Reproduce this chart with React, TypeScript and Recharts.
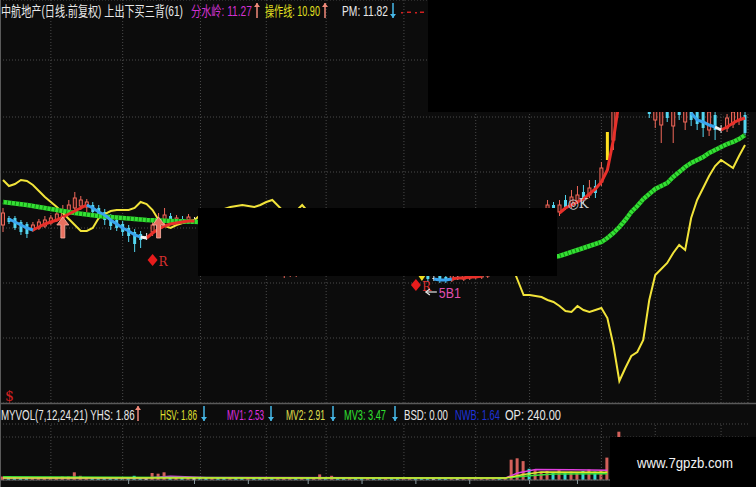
import React from "react";
import { ComposedChart, Bar, Line, XAxis, YAxis, CartesianGrid, ReferenceLine } from "recharts";

type Pair = [number, number];

const BARS = 125;

// yellow line (分水岭), [bar, price]
const yellowLine: Pair[] = [
  [0, 4.8], [1, 4.68], [2, 4.72], [3, 4.8], [4, 4.78], [5, 4.7], [6, 4.58], [7, 4.46], [8, 4.36], [9, 4.26],
  [10, 4.14], [11, 4.02], [12, 3.9], [13, 3.78], [14, 3.78], [15, 3.84], [16, 4.04], [17, 4.12], [18, 4.18], [19, 4.2],
  [20, 4.2], [21, 4.2], [22, 4.24], [23, 4.36], [24, 4.32], [25, 4.2], [26, 4.0], [27, 3.88], [28, 3.84], [29, 3.9],
  [30, 3.94], [31, 3.96], [32, 4.0], [33, 4.1], [34, 4.14], [35, 4.18], [36, 4.2], [37, 4.22], [38, 4.26], [39, 4.28],
  [40, 4.3], [41, 4.28], [42, 4.26], [43, 4.3], [44, 4.36], [45, 4.4], [46, 4.28], [47, 4.16], [48, 4.12], [49, 4.18],
  [50, 4.3], [51, 4.16],
  [85, 3.1], [86, 2.8], [87, 2.5], [88, 2.5], [89, 2.48], [90, 2.46], [91, 2.4], [92, 2.36], [93, 2.28], [94, 2.18],
  [95, 2.16], [96, 2.28], [97, 2.2], [98, 2.16], [99, 2.2], [100, 2.24], [101, 2.04], [102, 1.5], [103, 0.78], [104, 1.04],
  [105, 1.28], [106, 1.36], [107, 1.6], [108, 2.4], [109, 2.9], [110, 3.02], [111, 3.14], [112, 3.34], [113, 3.5], [114, 3.4],
  [115, 4.04], [116, 4.4], [117, 4.64], [118, 4.88], [119, 5.08], [120, 5.2], [121, 5.12], [122, 5.04], [123, 5.28], [124, 5.5],
];

// green line (操作线)
const greenLine: Pair[] = [
  [0, 4.36], [4, 4.3], [8, 4.22], [12, 4.14], [16, 4.08], [20, 4.04], [24, 4.0], [28, 3.98], [33, 3.96],
  [92, 3.26], [93, 3.28], [94, 3.32], [96, 3.4], [98, 3.48], [100, 3.56], [101, 3.64], [102, 3.74], [103, 3.86],
  [104, 4.0], [105, 4.16], [106, 4.28], [107, 4.42], [108, 4.52], [109, 4.62], [110, 4.68], [111, 4.74], [112, 4.86],
  [113, 4.96], [114, 5.06], [115, 5.14], [116, 5.2], [117, 5.26], [118, 5.34], [119, 5.4], [120, 5.46], [121, 5.52],
  [122, 5.56], [123, 5.62], [124, 5.7],
];

// trend line, split by colour
const trendRed: Pair[] = [
  [5, 3.8], [6, 3.86], [7, 3.92], [8, 3.96], [9, 4.0], [10, 4.06], [11, 4.12], [12, 4.18], [13, 4.24], [14, 4.3],
  [24, 3.64], [25, 3.74], [26, 3.82], [27, 3.88], [28, 3.92], [29, 3.94], [30, 3.96], [31, 3.98], [32, 3.98],
  [75, 2.82], [76, 2.84], [77, 2.84], [78, 2.86], [79, 2.86], [80, 2.88],
  [93, 4.14], [94, 4.24], [95, 4.3], [96, 4.36], [97, 4.42], [98, 4.52], [99, 4.62], [100, 4.76], [101, 5.0], [102, 5.6], [103, 6.4],
  [120, 5.8], [121, 5.86], [122, 5.94], [123, 6.0], [124, 6.04],
];
const trendBlue: Pair[] = [
  [1, 4.02], [2, 3.96], [3, 3.9], [4, 3.84], [5, 3.8],
  [14, 4.3], [15, 4.24], [16, 4.16], [17, 4.1], [18, 4.0], [19, 3.92], [20, 3.84], [21, 3.78], [22, 3.7], [23, 3.66],
  [72, 2.82], [73, 2.8], [74, 2.8], [75, 2.82],
  [115, 6.14], [116, 6.0], [117, 5.96], [118, 5.9], [119, 5.86],
];
const trendWhite: Pair[] = [[23, 3.66], [24, 3.64], [119, 5.86], [120, 5.8]];

// candles: [bar, open, high, low, close]
const candles: [number, number, number, number, number][] = [
  [0, 3.9, 4.24, 3.76, 4.14], [1, 4.04, 4.08, 3.92, 3.96], [2, 4.04, 4.08, 3.8, 3.84], [3, 3.96, 4.0, 3.7, 3.76],
  [4, 3.92, 3.96, 3.64, 3.72], [5, 3.8, 3.96, 3.76, 3.9], [6, 3.84, 4.02, 3.8, 3.96], [7, 3.88, 4.08, 3.84, 4.0],
  [8, 3.94, 4.1, 3.9, 4.04], [9, 4.0, 4.2, 3.96, 4.12], [10, 4.04, 4.3, 4.0, 4.2], [11, 4.16, 4.4, 4.12, 4.3],
  [12, 4.24, 4.56, 4.2, 4.44], [13, 4.28, 4.48, 4.2, 4.4], [14, 4.26, 4.42, 4.16, 4.36], [15, 4.3, 4.36, 4.12, 4.16],
  [16, 4.24, 4.3, 4.02, 4.08], [17, 4.16, 4.22, 3.9, 4.0], [18, 4.04, 4.12, 3.8, 3.88], [19, 4.0, 4.06, 3.78, 3.84],
  [20, 3.92, 3.98, 3.68, 3.76], [21, 3.84, 3.9, 3.56, 3.68], [22, 3.76, 3.82, 3.36, 3.52], [23, 3.72, 3.78, 3.44, 3.6],
  [24, 3.68, 3.74, 3.6, 3.68], [25, 3.76, 4.0, 3.68, 3.9], [26, 3.84, 4.14, 3.76, 4.0], [27, 3.96, 4.24, 3.88, 4.1],
  [28, 4.08, 4.14, 3.92, 3.98], [29, 3.96, 4.1, 3.9, 4.04], [30, 4.02, 4.08, 3.92, 3.96], [31, 3.98, 4.12, 3.94, 4.06],
  [32, 4.02, 4.06, 3.98, 4.02],
  [47, 2.94, 3.2, 2.84, 3.1], [48, 2.96, 3.12, 2.86, 3.04], [49, 2.98, 3.14, 2.86, 3.08],
  [70, 2.98, 3.06, 2.8, 2.86], [71, 2.92, 3.0, 2.76, 2.82], [72, 2.84, 2.9, 2.78, 2.84], [73, 2.88, 2.94, 2.74, 2.8],
  [74, 2.86, 2.92, 2.74, 2.78], [75, 2.8, 2.98, 2.76, 2.9], [76, 2.86, 2.94, 2.8, 2.86], [77, 2.82, 3.0, 2.78, 2.92],
  [78, 2.84, 3.02, 2.8, 2.94], [79, 2.86, 3.04, 2.82, 2.96], [80, 2.86, 3.06, 2.82, 2.98], [81, 2.88, 3.08, 2.84, 3.0],
  [91, 4.1, 4.4, 4.04, 4.3], [92, 4.3, 4.36, 4.1, 4.16], [93, 4.16, 4.4, 4.08, 4.3], [94, 4.4, 4.5, 4.2, 4.26],
  [95, 4.3, 4.6, 4.24, 4.46], [96, 4.38, 4.68, 4.32, 4.5], [97, 4.56, 4.7, 4.34, 4.42], [98, 4.5, 4.8, 4.44, 4.64],
  [99, 4.68, 4.8, 4.44, 4.54], [100, 4.76, 5.16, 4.68, 5.04], [101, 5.2, 5.76, 5.2, 5.76], [102, 5.6, 6.4, 5.4, 6.2],
  [103, 6.3, 7.0, 6.2, 6.8], [104, 6.4, 7.1, 6.3, 7.0], [105, 6.5, 7.3, 6.4, 7.2], [106, 7.0, 7.1, 6.24, 6.4],
  [107, 6.5, 7.2, 6.3, 7.1], [108, 6.6, 6.7, 6.04, 6.12], [109, 6.0, 6.6, 5.84, 6.5], [110, 5.9, 6.5, 5.54, 6.4],
  [111, 6.5, 6.6, 5.96, 6.04], [112, 5.88, 6.5, 5.54, 6.4], [113, 6.48, 6.6, 6.0, 6.1], [114, 5.96, 6.6, 5.8, 6.5],
  [115, 6.4, 6.5, 5.88, 6.0], [116, 6.3, 6.4, 5.8, 5.92], [117, 6.2, 6.3, 5.66, 5.84], [118, 5.8, 6.24, 5.68, 6.16],
  [119, 6.1, 6.2, 5.6, 5.8], [120, 5.84, 5.9, 5.74, 5.84], [121, 5.84, 6.12, 5.76, 6.04], [122, 5.92, 6.24, 5.84, 6.16],
  [123, 6.0, 6.3, 5.9, 6.24], [124, 6.1, 6.16, 5.7, 5.74],
];
const highlightBars = [101];

// chart signals: [bar, price, kind]
const signals: [number, number, string][] = [
  [1, 0.5, "S"], [10, 3.84, "up"], [25, 3.2, "R"], [26, 3.84, "up"],
  [69, 2.7, "R"], [70, 2.84, "tri"], [71, 2.56, "B"], [95, 4.34, "K"],
];

const gridPrices = [1.64, 2.74, 3.84, 4.96, 6.06, 7.2];
const gridBars = [8, 20, 33, 44, 54, 67, 79, 88, 100, 109, 120];

// volume panel
const volume = [
  0.5, 0.4, 0.4, 0.3, 0.4, 0.3, 0.4, 0.3, 0.4, 0.4,
  0.5, 0.5, 1.1, 0.6, 0.4, 0.4, 0.3, 0.4, 0.3, 0.3,
  0.4, 0.4, 0.6, 0.4, 0.3, 1.0, 0.9, 1.1, 0.5, 0.4,
  0.4, 0.3, 0.3, 0.4, 0.3, 0.3, 0.4, 0.3, 0.3, 0.4,
  0.3, 0.3, 0.4, 0.3, 0.3, 0.4, 0.3, 0.4, 0.3, 0.3,
  0.4, 0.3, 0.3, 0.8, 0.4, 0.6, 0.3, 0.3, 0.4, 0.3,
  0.3, 0.3, 0.4, 0.3, 0.3, 0.3, 0.4, 0.3, 0.3, 0.3,
  0.4, 0.3, 0.3, 0.4, 0.3, 0.3, 0.3, 0.4, 0.3, 0.3,
  0.3, 0.3, 0.3, 0.3, 0.3, 2.9, 3.1, 2.7, 1.6, 1.4,
  1.2, 1.3, 1.0, 1.4, 1.1, 1.2, 1.0, 1.3, 1.5, 1.2,
  1.4, 3.2, 4.2, 6.9,
];
const volDir =
  "udddduuuuu" + "uuuuuddddd" + "ddddnuuudu" + "dundduddud" + "dudduduuud" +
  "uduududdud" + "duddudduud" + "ddnddunuuu" + "uuuduuuudu" + "uududuudud" + "uuuu";
const volMa1: Pair[] = [[0, 0.3], [24, 0.3], [28, 0.55], [34, 0.35], [84, 0.3], [86, 1.0], [89, 1.5], [95, 1.45], [101, 1.4]];
const volMa2: Pair[] = [[0, 0.3], [40, 0.3], [84, 0.3], [87, 0.8], [90, 1.15], [101, 1.1]];
const volMa3: Pair[] = [[0, 0.45], [30, 0.35], [84, 0.3], [88, 0.6], [92, 0.85], [101, 0.9]];
const volTicks = [21, 32, 41, 51, 60, 69, 78, 88, 96];
const volGrid = [6.14];

const BG = "#0c0c0c";
const GRID = "#4a4a4a";
const FONT = "'Liberation Sans', 'Noto Sans CJK SC', sans-serif";

function put(rows: Record<string, any>[], key: string, pts: Pair[]) {
  pts.forEach(([i, v]) => {
    rows[i][key] = v;
  });
}

const priceRows: Record<string, any>[] = Array.from({ length: BARS }, (_, i) => ({ i }));
put(priceRows, "yellow", yellowLine);
put(priceRows, "green", greenLine);
put(priceRows, "tRed", trendRed);
put(priceRows, "tBlue", trendBlue);
put(priceRows, "tWhite", trendWhite);
candles.forEach(([i, o, h, l, c]) => {
  Object.assign(priceRows[i], { o, h, l, c, range: [l, h], hl: highlightBars.includes(i) });
});
signals.forEach(([i, v, k]) => {
  Object.assign(priceRows[i], { sig: v, sigKind: k });
});

const volRows: Record<string, any>[] = Array.from({ length: BARS }, (_, i) => ({
  i,
  vol: i < volume.length ? volume[i] : null,
  dir: volDir[i],
}));
put(volRows, "m1", volMa1);
put(volRows, "m2", volMa2);
put(volRows, "m3", volMa3);

// natural text width, so labels can be squeezed with a transform
const measureCtx = typeof document !== "undefined" ? document.createElement("canvas").getContext("2d") : null;
function textWidth(text: string, size: number, family: string) {
  if (!measureCtx) return text.length * size * 0.6;
  measureCtx.font = `${size}px ${family}`;
  return measureCtx.measureText(text).width;
}

function Squeezed({ x, y, len, color, size = 14, family = FONT, children }: any) {
  const natural = textWidth(children, size, family);
  const sx = natural > 0 ? len / natural : 1;
  return (
    <text transform={`translate(${x} ${y}) scale(${sx} 1)`} fill={color} fontSize={size} fontFamily={family}>
      {children}
    </text>
  );
}

function Candle(props: any) {
  const { x, y, width, height, payload } = props;
  if (!payload || payload.o == null || !height) return <g />;
  const { o, h, l, c, hl } = payload;
  const top = Math.min(y, y + height);
  const len = Math.abs(height);
  const ppu = len / (h - l);
  const cx = x + width / 2;
  const bTop = top + (h - Math.max(o, c)) * ppu;
  const bBot = top + (h - Math.min(o, c)) * ppu;
  const up = c > o;
  const color = hl ? "#ffe020" : up ? "#f0685a" : c < o ? "#54d6f0" : "#e8e8e8";
  const hollow = up && !hl;
  return (
    <g>
      <line x1={cx} x2={cx} y1={top} y2={top + len} stroke={color} strokeWidth={1} />
      <rect
        x={x + 0.5}
        y={bTop}
        width={width - 1}
        height={Math.max(1, bBot - bTop)}
        fill={hollow ? "#3a1412" : color}
        stroke={color}
        strokeWidth={hollow ? 1 : 0}
      />
    </g>
  );
}

function VolBar(props: any) {
  const { x, y, width, height, payload } = props;
  if (!payload || payload.vol == null || !height) return <g />;
  const col = payload.dir === "u" ? "#d2605a" : payload.dir === "d" ? "#3ad8d0" : "#e0e0e0";
  return <rect x={x} y={y} width={width} height={height} fill={col} />;
}

function SignalMark(props: any) {
  const { cx, cy, payload, index } = props;
  if (cx == null || cy == null || !payload || !payload.sigKind) return <g key={index} />;
  const k = payload.sigKind;
  if (k === "up") {
    const pts = [
      [cx, cy - 11], [cx - 6, cy - 3], [cx - 2, cy - 3], [cx - 2, cy + 10],
      [cx + 2, cy + 10], [cx + 2, cy - 3], [cx + 6, cy - 3],
    ].map((p) => p.join(",")).join(" ");
    return <polygon key={index} points={pts} fill="#e8705f" stroke="#ffb4a6" strokeWidth={0.8} />;
  }
  if (k === "R") {
    return (
      <g key={index}>
        <polygon points={`${cx},${cy - 6} ${cx + 5},${cy} ${cx},${cy + 6} ${cx - 5},${cy}`} fill="#e81c1c" />
        <text x={cx + 6} y={cy + 6} fill="#d83030" fontSize={12} fontFamily="'DejaVu Serif', serif">R</text>
      </g>
    );
  }
  if (k === "K") {
    return (
      <text key={index} x={cx - 4} y={cy + 5} fill="#d0d0d0" fontSize={13} fontFamily="'DejaVu Serif', serif">◎K</text>
    );
  }
  if (k === "B") {
    return (
      <g key={index}>
        <line x1={cx - 2} x2={cx + 9} y1={cy} y2={cy} stroke="#e8e8e8" strokeWidth={1.2} />
        <polyline points={`${cx + 2},${cy - 3} ${cx - 2},${cy} ${cx + 2},${cy + 3}`} fill="none" stroke="#e8e8e8" strokeWidth={1.2} />
        <Squeezed x={cx + 11} y={cy + 6} len={22} color="#e050b0" size={14}>5B1</Squeezed>
      </g>
    );
  }
  if (k === "tri") {
    return <polygon key={index} points={`${cx - 4},${cy - 3} ${cx + 4},${cy - 3} ${cx},${cy + 3}`} fill="#f0e020" />;
  }
  if (k === "S") {
    return (
      <text key={index} x={cx - 4} y={cy + 6} fill="#d02020" fontSize={14} fontFamily="'DejaVu Serif', serif">$</text>
    );
  }
  return <g key={index} />;
}

function Arrow({ x, top, bottom, up }: { x: number; top: number; bottom: number; up: boolean }) {
  const color = up ? "#f08a7a" : "#46b8e8";
  const tip = up ? top : bottom;
  const d = up ? 4 : -4;
  return (
    <g>
      <line x1={x} x2={x} y1={top} y2={bottom} stroke={color} strokeWidth={1.5} />
      <polygon points={`${x - 3},${tip + d} ${x},${tip} ${x + 3},${tip + d}`} fill={color} />
    </g>
  );
}

export default function App() {
  return (
    <div style={{ position: "relative", width: 756, height: 487, background: BG, overflow: "hidden" }}>
      <style>{`body{margin:0;background:${BG}}`}</style>
      <div style={{ position: "absolute", left: 0, top: 0 }}>
        <ComposedChart width={756} height={403} data={priceRows} margin={{ top: 0, right: 8, bottom: 0, left: 0 }}>
          <CartesianGrid stroke={GRID} strokeDasharray="1 2" />
          <XAxis dataKey="i" hide ticks={gridBars} interval={0} />
          <YAxis hide type="number" domain={[0.34, 8.4]} ticks={gridPrices} allowDataOverflow />
          <Bar dataKey="range" barSize={4} shape={Candle} isAnimationActive={false} />
          <Line dataKey="yellow" stroke="#f2e43a" strokeWidth={2} dot={false} activeDot={false} connectNulls isAnimationActive={false} />
          <Line dataKey="green" stroke="#34e034" strokeWidth={4.5} dot={false} activeDot={false} connectNulls isAnimationActive={false} />
          <Line dataKey="green" stroke="#138a13" strokeWidth={4.5} strokeDasharray="1 3" dot={false} activeDot={false} connectNulls isAnimationActive={false} />
          <Line dataKey="tRed" stroke="#e8302a" strokeWidth={3} dot={false} activeDot={false} isAnimationActive={false} />
          <Line dataKey="tBlue" stroke="#3aa4ee" strokeWidth={3} dot={false} activeDot={false} isAnimationActive={false} />
          <Line dataKey="tWhite" stroke="#f2f2f2" strokeWidth={3} dot={false} activeDot={false} isAnimationActive={false} />
          <Line dataKey="sig" stroke="none" dot={SignalMark} activeDot={false} isAnimationActive={false} />
        </ComposedChart>
      </div>
      <div style={{ position: "absolute", left: 0, top: 403 }}>
        <ComposedChart width={756} height={84} data={volRows} margin={{ top: 21, right: 8, bottom: 2, left: 0 }}>
          <CartesianGrid vertical={false} stroke={GRID} strokeDasharray="1 2" />
          <XAxis
            dataKey="i"
            height={5}
            ticks={volTicks}
            interval={0}
            tick={() => <g />}
            tickSize={4}
            tickLine={{ stroke: "#8a9aa0" }}
            axisLine={{ stroke: "#6a6a6a" }}
          />
          <YAxis hide type="number" domain={[0, 8]} ticks={volGrid} allowDataOverflow />
          {gridBars.map((b) => (
            <ReferenceLine key={b} x={b} stroke={GRID} strokeDasharray="1 2" />
          ))}
          <Bar dataKey="vol" barSize={3} shape={VolBar} isAnimationActive={false} />
          <Line dataKey="m1" stroke="#e040e0" strokeWidth={1.5} dot={false} activeDot={false} connectNulls isAnimationActive={false} />
          <Line dataKey="m3" stroke="#3ae03a" strokeWidth={1.5} dot={false} activeDot={false} connectNulls isAnimationActive={false} />
          <Line dataKey="m2" stroke="#d8ec30" strokeWidth={1.5} dot={false} activeDot={false} connectNulls isAnimationActive={false} />
        </ComposedChart>
      </div>
      <svg width={756} height={487} style={{ position: "absolute", left: 0, top: 0, pointerEvents: "none" }}>
        <line x1={0.5} x2={0.5} y1={0} y2={487} stroke="#5a5a5a" />
        <line x1={0} x2={756} y1={403.5} y2={403.5} stroke="#5a5a5a" strokeWidth={1.5} />
        <rect x={428} y={0} width={328} height={112} fill="#000" />
        <rect x={198} y={208} width={359} height={68} fill="#000" />
        <rect x={610} y={437} width={146} height={50} fill="#000" />
        <Squeezed x={637} y={468} len={96} color="#f2f2f2">www.7gpzb.com</Squeezed>

        <Squeezed x={1} y={16} len={182} color="#e8e8e8">中航地产(日线.前复权) 上出下买三背(61)</Squeezed>
        <Squeezed x={191} y={16} len={61} color="#d232d2">分水岭: 11.27</Squeezed>
        <Arrow x={257} top={3} bottom={18} up />
        <Squeezed x={265} y={16} len={55} color="#e2e020">操作线: 10.90</Squeezed>
        <Arrow x={325} top={3} bottom={18} up />
        <Squeezed x={342} y={16} len={46} color="#e8e8e8">PM: 11.82</Squeezed>
        <Arrow x={393} top={3} bottom={18} up={false} />
        <rect x={401} y={12} width={2} height={1.5} fill="#d02020" />
        <rect x={407} y={11.5} width={4} height={1.5} fill="#d02020" />
        <rect x={415} y={12} width={2} height={1.5} fill="#d02020" />
        <rect x={420} y={11.5} width={4} height={1.5} fill="#d02020" />

        <Squeezed x={1} y={420} len={134} color="#e8e8e8">MYVOL(7,12,24,21) YHS: 1.86</Squeezed>
        <Arrow x={138} top={406} bottom={421} up />
        <Squeezed x={160} y={420} len={37} color="#e0e030">HSV: 1.86</Squeezed>
        <Arrow x={204} top={406} bottom={421} up={false} />
        <Squeezed x={227} y={420} len={37} color="#e030e0">MV1: 2.53</Squeezed>
        <Arrow x={271} top={406} bottom={421} up={false} />
        <Squeezed x={286} y={420} len={39} color="#e0e050">MV2: 2.91</Squeezed>
        <Arrow x={333} top={406} bottom={421} up={false} />
        <Squeezed x={344} y={420} len={42} color="#30e030">MV3: 3.47</Squeezed>
        <Arrow x={395} top={406} bottom={421} up={false} />
        <Squeezed x={404} y={420} len={44} color="#e8e8e8">BSD: 0.00</Squeezed>
        <Squeezed x={455} y={420} len={45} color="#1e32d8">NWB: 1.64</Squeezed>
        <Squeezed x={505} y={420} len={56} color="#e8e8e8">OP: 240.00</Squeezed>
      </svg>
    </div>
  );
}
